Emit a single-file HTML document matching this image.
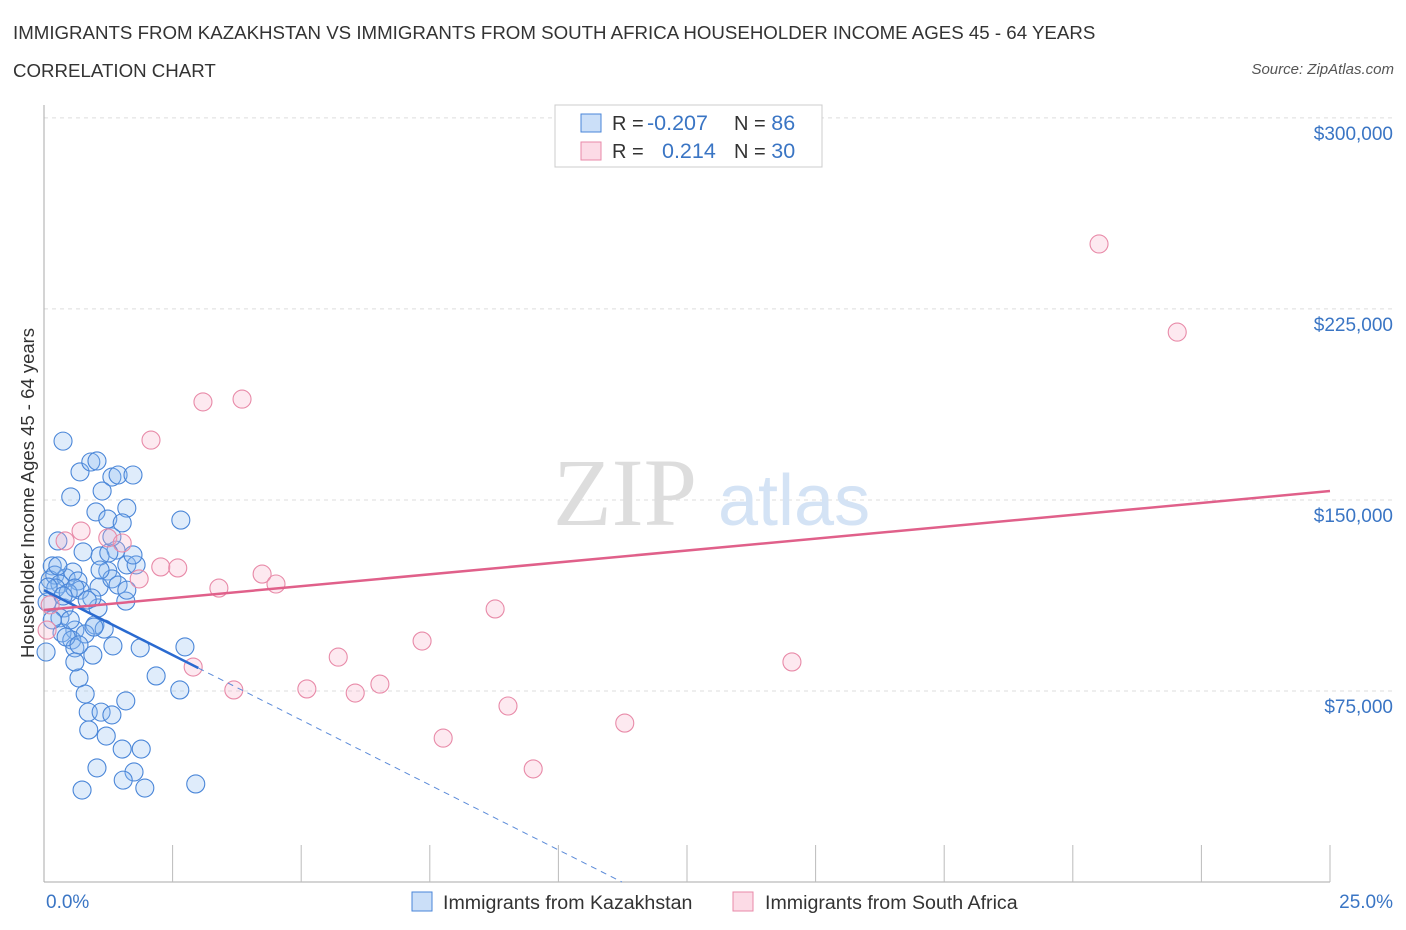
<!DOCTYPE html>
<html><head><meta charset="utf-8"><style>
body{margin:0;background:#fff;font-family:"Liberation Sans",sans-serif;}
#wrap{position:relative;width:1406px;height:930px;overflow:hidden;}
.t{position:absolute;white-space:nowrap;}
</style></head><body>
<div id="wrap">
<div class="t" style="left:13px;top:22px;font-size:18.7px;color:#333;">IMMIGRANTS FROM KAZAKHSTAN VS IMMIGRANTS FROM SOUTH AFRICA HOUSEHOLDER INCOME AGES 45 - 64 YEARS</div>
<div class="t" style="left:13px;top:60px;font-size:18.7px;color:#333;">CORRELATION CHART</div>
<div class="t" style="right:12px;top:61px;font-size:15px;color:#555;font-style:italic;">Source: ZipAtlas.com</div>
<svg id="plot" width="1406" height="930" style="position:absolute;left:0;top:0"></svg>
</div>
<script>
const yTicks=[75000,150000,225000,300000];
const yTickLabels=["$75,000","$150,000","$225,000","$300,000"];
const xTickLabels=["0.0%","25.0%"];
const kazX=[0.37,0.70,0.91,1.03,1.32,1.44,1.73,0.52,1.13,1.01,1.24,1.61,2.66,0.27,0.76,1.40,1.09,1.26,1.61,1.79,1.24,0.16,0.12,0.21,0.43,0.56,0.66,0.31,1.07,0.70,1.32,1.44,1.05,0.06,0.39,0.31,0.60,0.99,0.35,0.54,0.60,0.80,0.04,0.95,1.34,1.87,2.18,2.64,2.74,0.68,0.80,0.86,1.11,1.32,1.59,0.87,1.21,1.52,1.89,1.03,1.75,1.54,0.74,1.96,2.95,0.23,0.47,0.93,0.51,0.43,0.68,1.17,0.84,0.16,0.27,0.60,1.59,1.61,1.32,1.73,1.52,0.08,0.37,0.97,0.60,1.09];
const kazY=[173.1,161.0,164.9,165.3,159.0,159.8,159.8,151.2,153.5,145.3,142.5,146.8,142.1,133.9,129.6,130.3,128.0,129.2,124.5,124.5,122.1,124.1,118.6,120.5,119.4,121.7,118.2,117.0,115.8,114.6,119.0,116.6,107.6,109.9,107.6,103.7,98.9,100.9,97.8,95.0,91.9,97.4,90.3,89.1,92.7,91.9,80.9,75.4,92.3,80.1,73.8,66.7,66.7,65.6,71.1,59.7,57.3,52.2,52.2,44.8,43.2,40.0,36.1,36.9,38.5,115.4,113.5,111.5,102.9,96.2,93.1,99.3,110.7,102.9,124.1,115.4,110.3,114.6,135.5,128.4,141.0,115.8,112.3,100.1,86.4,122.5];
const saX=[20.51,22.03,3.09,3.85,2.08,0.72,1.24,1.52,0.41,2.27,2.60,1.85,3.40,4.24,4.51,8.77,7.35,5.72,2.90,3.69,5.11,6.05,6.53,9.02,7.76,11.29,9.51,14.54,0.12,0.06];
const saY=[250.5,215.9,188.5,189.6,173.5,137.8,135.1,133.1,133.9,123.7,123.3,119.0,115.4,120.9,117.0,107.2,94.6,88.3,84.4,75.4,75.8,74.2,77.7,69.1,56.5,62.4,44.4,86.4,108.8,98.9];
const kazTrend=[114600,-10200]; // intercept, slope per %
const saTrend=[106800,1868];
const NS="http://www.w3.org/2000/svg";
const svg=document.getElementById('plot');
const X=v=>44+v*51.44, Y=v=>882-v*0.002547;
function mk(t,a,p){const e=document.createElementNS(NS,t);for(const k in a)e.setAttribute(k,a[k]);(p||svg).appendChild(e);return e;}
yTicks.forEach((v,i)=>{
 const g=mk('line',{x1:44,x2:1393,y1:Y(v),y2:Y(v),stroke:'#ddd','stroke-dasharray':'4,4'});
 
 
 const t=mk('text',{x:1393,y:Y(v)+22,'text-anchor':'end','font-size':19,fill:'#3a75c4','font-family':'Liberation Sans'});
 t.textContent=yTickLabels[i];
 
 
});
const ax=mk('line',{x1:44,x2:44,y1:105,y2:882,stroke:'#aaa'});


const bx=mk('line',{x1:44,x2:1330,y1:882,y2:882,stroke:'#aaa'});


for(let i=1;i<=10;i++){const tk=mk('line',{x1:X(i*2.5),x2:X(i*2.5),y1:845,y2:882,stroke:'#bbb'});
 
 }
[[0,'start',46],[25,'end',1393]].forEach((d,i)=>{const t=mk('text',{x:d[2],y:908,'text-anchor':d[1],'font-size':19,fill:'#3a75c4','font-family':'Liberation Sans'});t.textContent=xTickLabels[i];
 
 });
const w=mk('text',{x:553,y:525,'font-size':96,fill:'#ddd','font-family':'Liberation Serif'});w.textContent='ZIP';


const w2=mk('text',{x:718,y:525,'font-size':72,fill:'#d4e3f5','font-family':'Liberation Sans'});w2.textContent='atlas';


kazX.forEach((x,i)=>{const c=mk('circle',{cx:X(x),cy:Y(kazY[i]*1000),r:9,fill:'rgba(140,185,240,0.28)',stroke:'#4a86d8','stroke-width':1.1});
 
 });
saX.forEach((x,i)=>{const c=mk('circle',{cx:X(x),cy:Y(saY[i]*1000),r:9,fill:'rgba(248,175,200,0.28)',stroke:'#e88aa8','stroke-width':1.1});
 
 });
const kt=v=>kazTrend[0]+kazTrend[1]*v, st=v=>saTrend[0]+saTrend[1]*v;
const l1=mk('line',{x1:X(0),y1:Y(kt(0)),x2:X(3.0),y2:Y(kt(3.0)),stroke:'#2a6ad0','stroke-width':2.5});


const xe=-kazTrend[0]/kazTrend[1];
const l2=mk('line',{x1:X(3.0),y1:Y(kt(3.0)),x2:X(xe),y2:Y(0),stroke:'#5a8ad8','stroke-width':1,'stroke-dasharray':'6,5'});


const l3=mk('line',{x1:X(0),y1:Y(st(0)),x2:X(25),y2:Y(st(25)),stroke:'#e0608a','stroke-width':2.5});


const yt=mk('text',{x:0,y:0,transform:'translate(34,493) rotate(-90)','text-anchor':'middle','font-size':18.5,fill:'#333','font-family':'Liberation Sans'});yt.textContent='Householder Income Ages 45 - 64 years';


const lb=mk('rect',{x:555,y:105,width:267,height:62,fill:'#fff',stroke:'#ccc'});


[[123,'rgba(140,185,240,0.45)','#4a86d8','-0.207','86'],[151,'rgba(248,175,200,0.45)','#e88aa8','0.214','30']].forEach(r=>{
 const s=mk('rect',{x:581,y:r[0]-9,width:20,height:18,fill:r[1],stroke:r[2]});
 
 
 const t=mk('text',{x:612,y:r[0]+7,'font-size':20,fill:'#333','font-family':'Liberation Sans'});
 t.innerHTML='R = <tspan fill="#3a75c4" font-size="21.5" x="'+(r[3][0]=='-'?647:662)+'">'+r[3]+'</tspan><tspan x="734">N = </tspan><tspan fill="#3a75c4" font-size="21.5">'+r[4]+'</tspan>';
 
 
});
[[412,'rgba(140,185,240,0.45)','#4a86d8','Immigrants from Kazakhstan',443],[733,'rgba(248,175,200,0.45)','#e88aa8','Immigrants from South Africa',765]].forEach(r=>{
 const s=mk('rect',{x:r[0],y:892,width:20,height:19,fill:r[1],stroke:r[2]});
 
 
 const t=mk('text',{x:r[4],y:909,'font-size':19.6,fill:'#333','font-family':'Liberation Sans'});t.textContent=r[3];
 
 
});
</script>
</body></html>
